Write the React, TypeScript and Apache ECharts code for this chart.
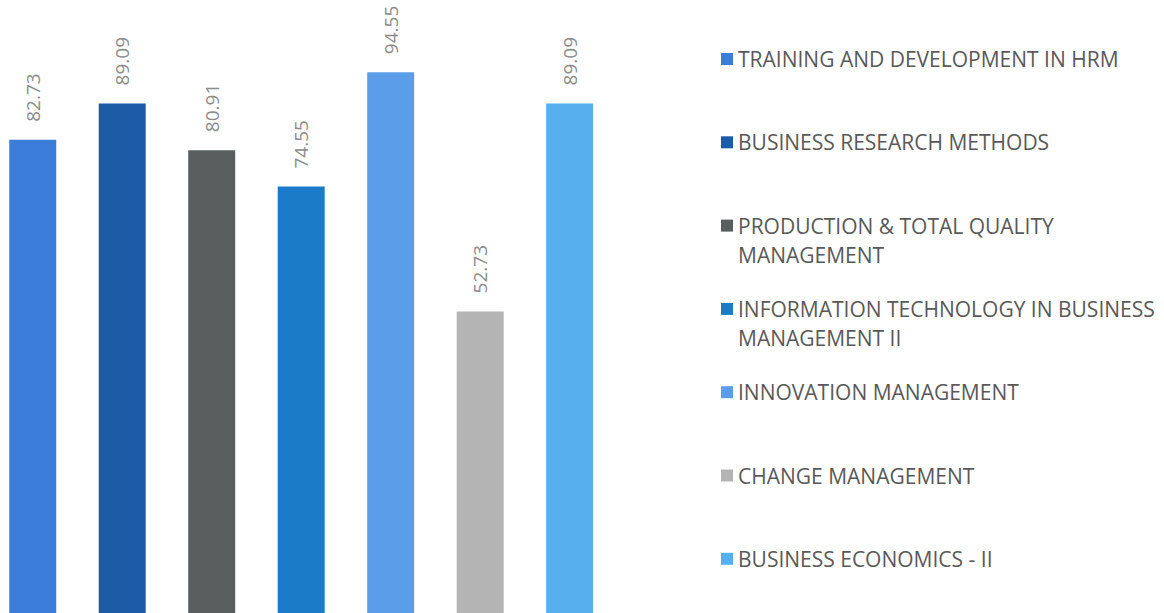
import React, { useEffect, useRef } from "react";
import * as echarts from "echarts";

const categories = [
  "TRAINING AND DEVELOPMENT IN HRM",
  "BUSINESS RESEARCH METHODS",
  "PRODUCTION & TOTAL QUALITY MANAGEMENT",
  "INFORMATION TECHNOLOGY IN BUSINESS MANAGEMENT II",
  "INNOVATION MANAGEMENT",
  "CHANGE MANAGEMENT",
  "BUSINESS ECONOMICS - II",
];
const legendLines = [
  ["TRAINING AND DEVELOPMENT IN HRM"],
  ["BUSINESS RESEARCH METHODS"],
  ["PRODUCTION & TOTAL QUALITY", "MANAGEMENT"],
  ["INFORMATION TECHNOLOGY IN BUSINESS", "MANAGEMENT II"],
  ["INNOVATION MANAGEMENT"],
  ["CHANGE MANAGEMENT"],
  ["BUSINESS ECONOMICS - II"],
];
const values = [82.73, 89.09, 80.91, 74.55, 94.55, 52.73, 89.09];
const colors = ["#3b7dd8", "#1d5ba7", "#595e5f", "#1c7bc8", "#5b9de8", "#b4b4b4", "#57afee"];
const groupLabel = ["Score"];

export default function App() {
  const ref = useRef<HTMLDivElement>(null);
  useEffect(() => {
    if (!ref.current) return;
    const chart = echarts.init(ref.current, undefined, { renderer: "svg" });
    const lineH = 29;
    const legends = categories.map((name, i) => {
      const lines = legendLines[i];
      const center = 59 + i * 83.3;
      const nLines = lines.length === 1 ? 1 : 3;
      return {
        data: [name],
        left: 721,
        top: center - (nLines * lineH) / 2,
        orient: "vertical",
        padding: 0,
        itemWidth: 12,
        itemHeight: 12,
        icon: "rect",
        selectedMode: false,
        formatter: () => (lines.length === 1 ? lines[0] : "\n" + lines.join("\n")),
        textStyle: {
          fontFamily: "Open Sans",
          fontSize: 21,
          color: "#595959",
          lineHeight: lineH,
        },
      };
    });
    chart.setOption({
      animation: false,
      backgroundColor: "#ffffff",
      legend: legends,
      grid: { left: 0, width: 602.4, top: 41, bottom: -4, containLabel: false },
      xAxis: {
        type: "category",
        data: groupLabel,
        show: false,
      },
      yAxis: { type: "value", min: 0, max: 100, show: false },
      series: categories.map((name, i) => ({
        name,
        type: "bar",
        barWidth: 47,
        barGap: "90.4%",
        itemStyle: { color: colors[i] },
        data: [values[i]],
        label: {
          show: true,
          position: "top",
          rotate: 90,
          align: "left",
          verticalAlign: "middle",
          distance: 18,
          fontFamily: "Open Sans",
          fontSize: 19,
          color: "#8c8c8c",
          formatter: (p: any) => p.value.toFixed(2),
        },
      })),
    });
    return () => chart.dispose();
  }, []);
  return (
    <div
      ref={ref}
      style={{ position: "fixed", left: 0, top: 0, width: 1164, height: 613, background: "#fff" }}
    />
  );
}
